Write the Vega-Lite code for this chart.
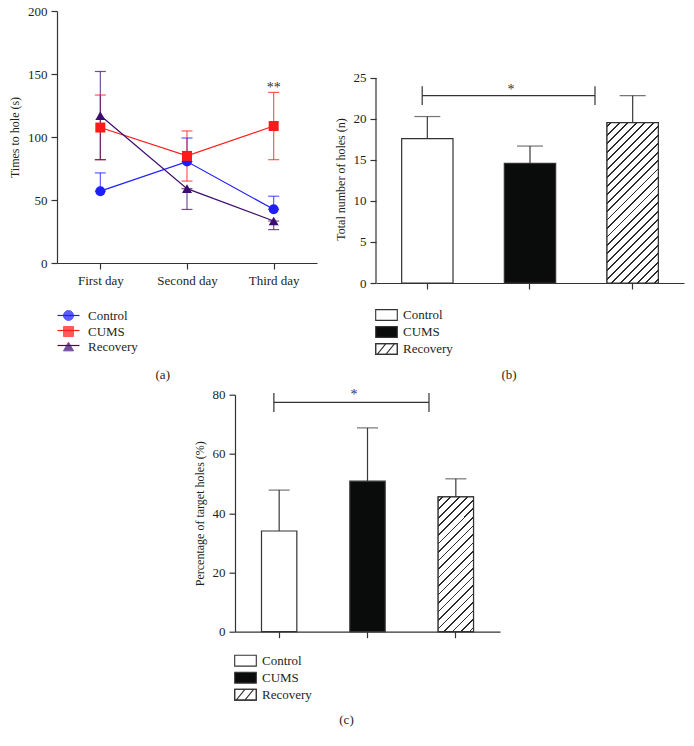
{
  "$schema": "https://vega.github.io/schema/vega-lite/v6.json",
  "background": "white",
  "padding": {"left": 8, "top": 5, "right": 5, "bottom": 5},
  "config": {
    "font": "Liberation Serif",
    "view": {"stroke": null},
    "axis": {"labelFont": "Liberation Serif", "titleFont": "Liberation Serif", "labelFontSize": 13, "titleFontSize": 12, "titleFontWeight": "normal", "labelColor": "#231f20", "titleColor": "#231f20", "domainColor": "#333333", "tickColor": "#333333", "tickSize": 6, "grid": false, "domainWidth": 1.2, "tickWidth": 1.2, "labelPadding": 4, "titlePadding": 6},
    "legend": {"labelFont": "Liberation Serif", "labelFontSize": 13, "labelColor": "#231f20"},
    "title": {"font": "Liberation Serif", "fontSize": 13, "fontWeight": "normal", "color": "#231f20"}
  },
  "columns": 2,
  "bounds": "flush",
  "spacing": {"row": 111.7, "column": 59},
  "resolve": {"scale": {"color": "independent", "fill": "independent", "shape": "independent", "stroke": "independent", "size": "independent"}},
  "concat": [
    {
      "width": 260,
      "height": 252,
      "title": {"text": "(a)", "orient": "bottom", "anchor": "middle", "frame": "bounds", "offset": 15},
      "data": {"values": [
        {"day": "First day", "group": "Control", "mean": 57, "lo": 57, "hi": 71.5},
        {"day": "First day", "group": "CUMS", "mean": 107.5, "lo": 82, "hi": 133.3},
        {"day": "First day", "group": "Recovery", "mean": 117, "lo": 82, "hi": 152},
        {"day": "Second day", "group": "Control", "mean": 80.5, "lo": 80.5, "hi": 99.2},
        {"day": "Second day", "group": "CUMS", "mean": 85, "lo": 65, "hi": 104.8},
        {"day": "Second day", "group": "Recovery", "mean": 59, "lo": 42.5, "hi": 59},
        {"day": "Third day", "group": "Control", "mean": 42.6, "lo": 42.6, "hi": 53},
        {"day": "Third day", "group": "CUMS", "mean": 108.7, "lo": 82, "hi": 135.4},
        {"day": "Third day", "group": "Recovery", "mean": 33.3, "lo": 26.5, "hi": 33.3}
      ]},
      "layer": [
        {
          "mark": {"type": "line", "strokeWidth": 1.2},
          "encoding": {
            "x": {"field": "day", "type": "ordinal", "sort": ["First day", "Second day", "Third day"], "scale": {"type": "point", "padding": 0.5}, "axis": {"title": null, "labelAngle": 0, "labelPadding": 5}},
            "y": {"field": "mean", "type": "quantitative", "title": "Times to hole (s)", "scale": {"domain": [0, 200], "nice": false}, "axis": {"values": [0, 50, 100, 150, 200]}},
            "color": {"field": "group", "type": "nominal", "scale": {"domain": ["Control", "CUMS", "Recovery"], "range": ["#1e1eff", "#ff1a1a", "#3d0c6e"]}, "legend": {
              "title": null, "orient": "none", "legendX": 5, "legendY": 298, "symbolSize": 100, "symbolStrokeWidth": 1, "symbolOpacity": 1, "labelOffset": 13, "rowPadding": 1, "labelFont": "Liberation Serif", "labelFontSize": 13
            }}
          }
        },
        {
          "mark": {"type": "rule", "strokeWidth": 1.2, "opacity": 0.72},
          "encoding": {
            "x": {"field": "day", "type": "ordinal", "sort": ["First day", "Second day", "Third day"]},
            "y": {"field": "lo", "type": "quantitative", "title": "Times to hole (s)"},
            "y2": {"field": "hi"},
            "color": {"field": "group", "type": "nominal"}
          }
        },
        {
          "mark": {"type": "tick", "thickness": 1.2, "size": 11, "opacity": 0.72},
          "encoding": {
            "x": {"field": "day", "type": "ordinal", "sort": ["First day", "Second day", "Third day"]},
            "y": {"field": "hi", "type": "quantitative", "title": "Times to hole (s)"},
            "color": {"field": "group", "type": "nominal"}
          }
        },
        {
          "mark": {"type": "tick", "thickness": 1.2, "size": 11, "opacity": 0.72},
          "encoding": {
            "x": {"field": "day", "type": "ordinal", "sort": ["First day", "Second day", "Third day"]},
            "y": {"field": "lo", "type": "quantitative", "title": "Times to hole (s)"},
            "color": {"field": "group", "type": "nominal"}
          }
        },
        {
          "mark": {"type": "point", "filled": true, "opacity": 1, "size": 100},
          "encoding": {
            "x": {"field": "day", "type": "ordinal", "sort": ["First day", "Second day", "Third day"]},
            "y": {"field": "mean", "type": "quantitative", "title": "Times to hole (s)"},
            "color": {"field": "group", "type": "nominal"},
            "shape": {"field": "group", "type": "nominal", "scale": {"domain": ["Control", "CUMS", "Recovery"], "range": ["circle", "square", "triangle-up"]}}
          }
        },
        {
          "mark": {"type": "point", "opacity": 0, "size": 100},
          "encoding": {
            "x": {"field": "day", "type": "ordinal", "sort": ["First day", "Second day", "Third day"]},
            "y": {"field": "mean", "type": "quantitative", "title": "Times to hole (s)"},
            "stroke": {"field": "group", "type": "nominal", "sort": ["Control", "CUMS", "Recovery"], "scale": {"range": ["#1e1eff", "#ff1a1a", "#3d0c6e"]}, "legend": {
              "title": null, "orient": "none", "legendX": 5, "legendY": 298, "symbolSize": 100, "symbolType": "M-2.2,0H2.2", "symbolStrokeWidth": 1.2, "symbolOpacity": 1, "symbolFillColor": "transparent", "labelExpr": "' '", "labelOffset": 13, "rowPadding": 1, "labelFontSize": 13
            }}
          }
        },
        {
          "data": {"values": [{"day": "Third day", "y": 139, "label": "**"}]},
          "mark": {"type": "text", "fontSize": 14, "font": "Liberation Serif", "color": "#333333"},
          "encoding": {
            "x": {"field": "day", "type": "ordinal", "sort": ["First day", "Second day", "Third day"]},
            "y": {"field": "y", "type": "quantitative", "title": "Times to hole (s)"},
            "text": {"field": "label"}
          }
        }
      ]
    },
    {
      "width": 308,
      "height": 272,
      "title": {"text": "(b)", "orient": "bottom", "anchor": "middle", "frame": "bounds", "offset": 12},
      "resolve": {"scale": {"x": "independent"}},
      "layer": [
        {
          "data": {"values": [
            {"group": "Control", "mean": 17.6, "hi": 20.3},
            {"group": "CUMS", "mean": 14.6, "hi": 16.7},
            {"group": "Recovery", "mean": 19.55, "hi": 22.85}
          ]},
          "layer": [
            {
              "mark": {"type": "rule", "strokeWidth": 1.2, "color": "#3a3a3a"},
              "encoding": {
                "x": {"field": "group", "type": "nominal", "sort": ["Control", "CUMS", "Recovery"], "scale": {"paddingInner": 0.5, "paddingOuter": 0.25}, "axis": {"labels": false, "title": null}},
                "y": {"field": "mean", "type": "quantitative", "title": "Total number of holes (n)", "scale": {"domain": [0, 33.17], "nice": false}, "axis": {"values": [0, 5, 10, 15, 20, 25], "domain": false, "titleY": 168}},
                "y2": {"field": "hi"}
              }
            },
            {
              "mark": {"type": "tick", "thickness": 1.2, "size": 26, "color": "#3a3a3a"},
              "encoding": {
                "x": {"field": "group", "type": "nominal", "sort": ["Control", "CUMS", "Recovery"]},
                "y": {"field": "hi", "type": "quantitative", "title": "Total number of holes (n)"}
              }
            },
            {
              "mark": {"type": "bar", "stroke": "#333333", "strokeWidth": 1.2},
              "encoding": {
                "x": {"field": "group", "type": "nominal", "sort": ["Control", "CUMS", "Recovery"]},
                "y": {"field": "mean", "type": "quantitative", "title": "Total number of holes (n)"},
                "fill": {"field": "group", "type": "nominal", "scale": {"domain": ["Control", "CUMS", "Recovery"], "range": ["#ffffff", "#0a0c0b", "#ffffff"]}, "legend": {
                  "title": null, "orient": "none", "legendX": 3.5, "legendY": 297, "symbolSize": 144, "symbolType": "M-1.8,-0.9H1.8V0.9H-1.8Z", "symbolStrokeWidth": 1.1, "symbolStrokeColor": "#333333", "labelOffset": 9.5, "rowPadding": 1, "labelFont": "Liberation Serif", "labelFontSize": 13
                }}
              }
            },
            {
              "transform": [{"filter": "datum.group === 'Recovery'"}],
              "mark": {"type": "bar", "stroke": "#333333", "strokeWidth": 1.2, "fill": {
                "gradient": "linear", "x1": 0, "y1": 0, "x2": 0.3834, "y2": 1.1973,
                "stops": [
                  {"offset": 0, "color": "#ffffff"},
                  {"offset": 0.0155, "color": "#ffffff"}, {"offset": 0.0155, "color": "#2b2b2b"}, {"offset": 0.0245, "color": "#2b2b2b"}, {"offset": 0.0245, "color": "#ffffff"},
                  {"offset": 0.0555, "color": "#ffffff"}, {"offset": 0.0555, "color": "#2b2b2b"}, {"offset": 0.0645, "color": "#2b2b2b"}, {"offset": 0.0645, "color": "#ffffff"},
                  {"offset": 0.0955, "color": "#ffffff"}, {"offset": 0.0955, "color": "#2b2b2b"}, {"offset": 0.1045, "color": "#2b2b2b"}, {"offset": 0.1045, "color": "#ffffff"},
                  {"offset": 0.1355, "color": "#ffffff"}, {"offset": 0.1355, "color": "#2b2b2b"}, {"offset": 0.1445, "color": "#2b2b2b"}, {"offset": 0.1445, "color": "#ffffff"},
                  {"offset": 0.1755, "color": "#ffffff"}, {"offset": 0.1755, "color": "#2b2b2b"}, {"offset": 0.1845, "color": "#2b2b2b"}, {"offset": 0.1845, "color": "#ffffff"},
                  {"offset": 0.2155, "color": "#ffffff"}, {"offset": 0.2155, "color": "#2b2b2b"}, {"offset": 0.2245, "color": "#2b2b2b"}, {"offset": 0.2245, "color": "#ffffff"},
                  {"offset": 0.2555, "color": "#ffffff"}, {"offset": 0.2555, "color": "#2b2b2b"}, {"offset": 0.2645, "color": "#2b2b2b"}, {"offset": 0.2645, "color": "#ffffff"},
                  {"offset": 0.2955, "color": "#ffffff"}, {"offset": 0.2955, "color": "#2b2b2b"}, {"offset": 0.3045, "color": "#2b2b2b"}, {"offset": 0.3045, "color": "#ffffff"},
                  {"offset": 0.3355, "color": "#ffffff"}, {"offset": 0.3355, "color": "#2b2b2b"}, {"offset": 0.3445, "color": "#2b2b2b"}, {"offset": 0.3445, "color": "#ffffff"},
                  {"offset": 0.3755, "color": "#ffffff"}, {"offset": 0.3755, "color": "#2b2b2b"}, {"offset": 0.3845, "color": "#2b2b2b"}, {"offset": 0.3845, "color": "#ffffff"},
                  {"offset": 0.4155, "color": "#ffffff"}, {"offset": 0.4155, "color": "#2b2b2b"}, {"offset": 0.4245, "color": "#2b2b2b"}, {"offset": 0.4245, "color": "#ffffff"},
                  {"offset": 0.4555, "color": "#ffffff"}, {"offset": 0.4555, "color": "#2b2b2b"}, {"offset": 0.4645, "color": "#2b2b2b"}, {"offset": 0.4645, "color": "#ffffff"},
                  {"offset": 0.4955, "color": "#ffffff"}, {"offset": 0.4955, "color": "#2b2b2b"}, {"offset": 0.5045, "color": "#2b2b2b"}, {"offset": 0.5045, "color": "#ffffff"},
                  {"offset": 0.5355, "color": "#ffffff"}, {"offset": 0.5355, "color": "#2b2b2b"}, {"offset": 0.5445, "color": "#2b2b2b"}, {"offset": 0.5445, "color": "#ffffff"},
                  {"offset": 0.5755, "color": "#ffffff"}, {"offset": 0.5755, "color": "#2b2b2b"}, {"offset": 0.5845, "color": "#2b2b2b"}, {"offset": 0.5845, "color": "#ffffff"},
                  {"offset": 0.6155, "color": "#ffffff"}, {"offset": 0.6155, "color": "#2b2b2b"}, {"offset": 0.6245, "color": "#2b2b2b"}, {"offset": 0.6245, "color": "#ffffff"},
                  {"offset": 0.6555, "color": "#ffffff"}, {"offset": 0.6555, "color": "#2b2b2b"}, {"offset": 0.6645, "color": "#2b2b2b"}, {"offset": 0.6645, "color": "#ffffff"},
                  {"offset": 0.6955, "color": "#ffffff"}, {"offset": 0.6955, "color": "#2b2b2b"}, {"offset": 0.7045, "color": "#2b2b2b"}, {"offset": 0.7045, "color": "#ffffff"},
                  {"offset": 0.7355, "color": "#ffffff"}, {"offset": 0.7355, "color": "#2b2b2b"}, {"offset": 0.7445, "color": "#2b2b2b"}, {"offset": 0.7445, "color": "#ffffff"},
                  {"offset": 0.7755, "color": "#ffffff"}, {"offset": 0.7755, "color": "#2b2b2b"}, {"offset": 0.7845, "color": "#2b2b2b"}, {"offset": 0.7845, "color": "#ffffff"},
                  {"offset": 0.8155, "color": "#ffffff"}, {"offset": 0.8155, "color": "#2b2b2b"}, {"offset": 0.8245, "color": "#2b2b2b"}, {"offset": 0.8245, "color": "#ffffff"},
                  {"offset": 0.8555, "color": "#ffffff"}, {"offset": 0.8555, "color": "#2b2b2b"}, {"offset": 0.8645, "color": "#2b2b2b"}, {"offset": 0.8645, "color": "#ffffff"},
                  {"offset": 0.8955, "color": "#ffffff"}, {"offset": 0.8955, "color": "#2b2b2b"}, {"offset": 0.9045, "color": "#2b2b2b"}, {"offset": 0.9045, "color": "#ffffff"},
                  {"offset": 0.9355, "color": "#ffffff"}, {"offset": 0.9355, "color": "#2b2b2b"}, {"offset": 0.9445, "color": "#2b2b2b"}, {"offset": 0.9445, "color": "#ffffff"},
                  {"offset": 0.9755, "color": "#ffffff"}, {"offset": 0.9755, "color": "#2b2b2b"}, {"offset": 0.9845, "color": "#2b2b2b"}, {"offset": 0.9845, "color": "#ffffff"},
                  {"offset": 1, "color": "#ffffff"}
                ]
              }},
              "encoding": {
                "x": {"field": "group", "type": "nominal", "sort": ["Control", "CUMS", "Recovery"]},
                "y": {"field": "mean", "type": "quantitative", "title": "Total number of holes (n)"}
              }
            },
            {
              "transform": [{"filter": "datum.group === 'Recovery'"}],
              "mark": {"type": "point", "opacity": 0},
              "encoding": {
                "x": {"field": "group", "type": "nominal", "sort": ["Control", "CUMS", "Recovery"]},
                "y": {"field": "mean", "type": "quantitative", "title": "Total number of holes (n)"},
                "stroke": {"field": "group", "type": "nominal", "scale": {"range": ["#333333"]}, "legend": {
                  "title": null, "orient": "none", "legendX": 3.5, "legendY": 331, "symbolSize": 144, "symbolType": "M-1.8,-0.9H1.8V0.9H-1.8ZM-1.55,0.9L-0.1,-0.9M-0.1,0.9L1.35,-0.9", "symbolStrokeWidth": 1.1, "symbolOpacity": 1, "symbolFillColor": "transparent", "labelExpr": "' '", "labelOffset": 9.5, "labelFontSize": 13
                }}
              }
            }
          ]
        },
        {
          "data": {"values": [
            {"kind": "line", "x1": 0, "x2": 0, "y1": 0, "y2": 25},
            {"kind": "line", "x1": 0.45, "x2": 2.133, "y1": 22.85, "y2": 22.85},
            {"kind": "line", "x1": 0.45, "x2": 0.45, "y1": 21.7, "y2": 24.0},
            {"kind": "line", "x1": 2.133, "x2": 2.133, "y1": 21.7, "y2": 24.0},
            {"kind": "star", "x1": 1.315, "x2": 1.315, "y1": 23.5, "y2": 23.5, "label": "*"}
          ]},
          "layer": [
            {
              "transform": [{"filter": "datum.kind === 'line'"}],
              "mark": {"type": "rule", "strokeWidth": 1.2, "color": "#333333"},
              "encoding": {
                "x": {"field": "x1", "type": "quantitative", "scale": {"domain": [0, 3], "nice": false, "zero": false}, "axis": null},
                "x2": {"field": "x2"},
                "y": {"field": "y1", "type": "quantitative", "title": "Total number of holes (n)"},
                "y2": {"field": "y2"}
              }
            },
            {
              "transform": [{"filter": "datum.kind === 'star'"}],
              "mark": {"type": "text", "fontSize": 14, "font": "Liberation Serif", "color": "#333333"},
              "encoding": {
                "x": {"field": "x1", "type": "quantitative"},
                "y": {"field": "y1", "type": "quantitative", "title": "Total number of holes (n)"},
                "text": {"field": "label"}
              }
            }
          ]
        }
      ]
    },
    {
      "bounds": "flush",
      "spacing": 59,
      "resolve": {"scale": {"fill": "independent", "stroke": "independent"}, "legend": {"fill": "independent", "stroke": "independent"}},
      "hconcat": [
        {"width": 119, "height": 10, "data": {"values": []}, "mark": "point", "encoding": {}},
        {
          "width": 265,
          "height": 237,
          "title": {"text": "(c)", "orient": "bottom", "anchor": "middle", "frame": "bounds", "offset": 11},
          "resolve": {"scale": {"x": "independent"}},
          "layer": [
            {
              "data": {"values": [
                {"group": "Control", "mean": 34.0, "hi": 47.8},
                {"group": "CUMS", "mean": 50.8, "hi": 68.8},
                {"group": "Recovery", "mean": 45.5, "hi": 51.6}
              ]},
              "layer": [
                {
                  "mark": {"type": "rule", "strokeWidth": 1.2, "color": "#3a3a3a"},
                  "encoding": {
                    "x": {"field": "group", "type": "nominal", "sort": ["Control", "CUMS", "Recovery"], "scale": {"paddingInner": 0.6, "paddingOuter": 0.3}, "axis": {"labels": false, "title": null}},
                    "y": {"field": "mean", "type": "quantitative", "title": "Percentage of target holes (%)", "scale": {"domain": [0, 80], "nice": false}, "axis": {"values": [0, 20, 40, 60, 80]}},
                    "y2": {"field": "hi"}
                  }
                },
                {
                  "mark": {"type": "tick", "thickness": 1.2, "size": 21, "color": "#3a3a3a"},
                  "encoding": {
                    "x": {"field": "group", "type": "nominal", "sort": ["Control", "CUMS", "Recovery"]},
                    "y": {"field": "hi", "type": "quantitative", "title": "Percentage of target holes (%)"}
                  }
                },
                {
                  "mark": {"type": "bar", "stroke": "#333333", "strokeWidth": 1.2},
                  "encoding": {
                    "x": {"field": "group", "type": "nominal", "sort": ["Control", "CUMS", "Recovery"]},
                    "y": {"field": "mean", "type": "quantitative", "title": "Percentage of target holes (%)"},
                    "fill": {"field": "group", "type": "nominal", "scale": {"domain": ["Control", "CUMS", "Recovery"], "range": ["#ffffff", "#0a0c0b", "#ffffff"]}, "legend": {
                      "title": null, "orient": "none", "legendX": 3.5, "legendY": 259, "symbolSize": 144, "symbolType": "M-1.8,-0.9H1.8V0.9H-1.8Z", "symbolStrokeWidth": 1.1, "symbolStrokeColor": "#333333", "labelOffset": 9.5, "rowPadding": 1, "labelFont": "Liberation Serif", "labelFontSize": 13
                    }}
                  }
                },
                {
                  "transform": [{"filter": "datum.group === 'Recovery'"}],
                  "mark": {"type": "bar", "stroke": "#333333", "strokeWidth": 1.2, "fill": {
                    "gradient": "linear", "x1": 0, "y1": 0, "x2": 0.3097, "y2": 1.181,
                    "stops": [
                      {"offset": 0, "color": "#ffffff"},
                      {"offset": 0.02, "color": "#ffffff"}, {"offset": 0.02, "color": "#2b2b2b"}, {"offset": 0.03, "color": "#2b2b2b"}, {"offset": 0.03, "color": "#ffffff"},
                      {"offset": 0.07, "color": "#ffffff"}, {"offset": 0.07, "color": "#2b2b2b"}, {"offset": 0.08, "color": "#2b2b2b"}, {"offset": 0.08, "color": "#ffffff"},
                      {"offset": 0.12, "color": "#ffffff"}, {"offset": 0.12, "color": "#2b2b2b"}, {"offset": 0.13, "color": "#2b2b2b"}, {"offset": 0.13, "color": "#ffffff"},
                      {"offset": 0.17, "color": "#ffffff"}, {"offset": 0.17, "color": "#2b2b2b"}, {"offset": 0.18, "color": "#2b2b2b"}, {"offset": 0.18, "color": "#ffffff"},
                      {"offset": 0.22, "color": "#ffffff"}, {"offset": 0.22, "color": "#2b2b2b"}, {"offset": 0.23, "color": "#2b2b2b"}, {"offset": 0.23, "color": "#ffffff"},
                      {"offset": 0.27, "color": "#ffffff"}, {"offset": 0.27, "color": "#2b2b2b"}, {"offset": 0.28, "color": "#2b2b2b"}, {"offset": 0.28, "color": "#ffffff"},
                      {"offset": 0.32, "color": "#ffffff"}, {"offset": 0.32, "color": "#2b2b2b"}, {"offset": 0.33, "color": "#2b2b2b"}, {"offset": 0.33, "color": "#ffffff"},
                      {"offset": 0.37, "color": "#ffffff"}, {"offset": 0.37, "color": "#2b2b2b"}, {"offset": 0.38, "color": "#2b2b2b"}, {"offset": 0.38, "color": "#ffffff"},
                      {"offset": 0.42, "color": "#ffffff"}, {"offset": 0.42, "color": "#2b2b2b"}, {"offset": 0.43, "color": "#2b2b2b"}, {"offset": 0.43, "color": "#ffffff"},
                      {"offset": 0.47, "color": "#ffffff"}, {"offset": 0.47, "color": "#2b2b2b"}, {"offset": 0.48, "color": "#2b2b2b"}, {"offset": 0.48, "color": "#ffffff"},
                      {"offset": 0.52, "color": "#ffffff"}, {"offset": 0.52, "color": "#2b2b2b"}, {"offset": 0.53, "color": "#2b2b2b"}, {"offset": 0.53, "color": "#ffffff"},
                      {"offset": 0.57, "color": "#ffffff"}, {"offset": 0.57, "color": "#2b2b2b"}, {"offset": 0.58, "color": "#2b2b2b"}, {"offset": 0.58, "color": "#ffffff"},
                      {"offset": 0.62, "color": "#ffffff"}, {"offset": 0.62, "color": "#2b2b2b"}, {"offset": 0.63, "color": "#2b2b2b"}, {"offset": 0.63, "color": "#ffffff"},
                      {"offset": 0.67, "color": "#ffffff"}, {"offset": 0.67, "color": "#2b2b2b"}, {"offset": 0.68, "color": "#2b2b2b"}, {"offset": 0.68, "color": "#ffffff"},
                      {"offset": 0.72, "color": "#ffffff"}, {"offset": 0.72, "color": "#2b2b2b"}, {"offset": 0.73, "color": "#2b2b2b"}, {"offset": 0.73, "color": "#ffffff"},
                      {"offset": 0.77, "color": "#ffffff"}, {"offset": 0.77, "color": "#2b2b2b"}, {"offset": 0.78, "color": "#2b2b2b"}, {"offset": 0.78, "color": "#ffffff"},
                      {"offset": 0.82, "color": "#ffffff"}, {"offset": 0.82, "color": "#2b2b2b"}, {"offset": 0.83, "color": "#2b2b2b"}, {"offset": 0.83, "color": "#ffffff"},
                      {"offset": 0.87, "color": "#ffffff"}, {"offset": 0.87, "color": "#2b2b2b"}, {"offset": 0.88, "color": "#2b2b2b"}, {"offset": 0.88, "color": "#ffffff"},
                      {"offset": 0.92, "color": "#ffffff"}, {"offset": 0.92, "color": "#2b2b2b"}, {"offset": 0.93, "color": "#2b2b2b"}, {"offset": 0.93, "color": "#ffffff"},
                      {"offset": 0.97, "color": "#ffffff"}, {"offset": 0.97, "color": "#2b2b2b"}, {"offset": 0.98, "color": "#2b2b2b"}, {"offset": 0.98, "color": "#ffffff"},
                      {"offset": 1, "color": "#ffffff"}
                    ]
                  }},
                  "encoding": {
                    "x": {"field": "group", "type": "nominal", "sort": ["Control", "CUMS", "Recovery"]},
                    "y": {"field": "mean", "type": "quantitative", "title": "Percentage of target holes (%)"}
                  }
                },
                {
                  "transform": [{"filter": "datum.group === 'Recovery'"}],
                  "mark": {"type": "point", "opacity": 0},
                  "encoding": {
                    "x": {"field": "group", "type": "nominal", "sort": ["Control", "CUMS", "Recovery"]},
                    "y": {"field": "mean", "type": "quantitative", "title": "Percentage of target holes (%)"},
                    "stroke": {"field": "group", "type": "nominal", "scale": {"range": ["#333333"]}, "legend": {
                      "title": null, "orient": "none", "legendX": 3.5, "legendY": 293, "symbolSize": 144, "symbolType": "M-1.8,-0.9H1.8V0.9H-1.8ZM-1.55,0.9L-0.1,-0.9M-0.1,0.9L1.35,-0.9", "symbolStrokeWidth": 1.1, "symbolOpacity": 1, "symbolFillColor": "transparent", "labelExpr": "' '", "labelOffset": 9.5, "labelFontSize": 13
                    }}
                  }
                }
              ]
            },
            {
              "data": {"values": [
                {"kind": "line", "x1": 0.44, "x2": 2.196, "y1": 77.4, "y2": 77.4},
                {"kind": "line", "x1": 0.44, "x2": 0.44, "y1": 74.2, "y2": 80.6},
                {"kind": "line", "x1": 2.196, "x2": 2.196, "y1": 74.2, "y2": 80.6},
                {"kind": "star", "x1": 1.347, "x2": 1.347, "y1": 79.8, "y2": 79.8, "label": "*"}
              ]},
              "layer": [
                {
                  "transform": [{"filter": "datum.kind === 'line'"}],
                  "mark": {"type": "rule", "strokeWidth": 1.2, "color": "#333333"},
                  "encoding": {
                    "x": {"field": "x1", "type": "quantitative", "scale": {"domain": [0, 3], "nice": false, "zero": false}, "axis": null},
                    "x2": {"field": "x2"},
                    "y": {"field": "y1", "type": "quantitative", "title": "Percentage of target holes (%)"},
                    "y2": {"field": "y2"}
                  }
                },
                {
                  "transform": [{"filter": "datum.kind === 'star'"}],
                  "mark": {"type": "text", "fontSize": 14, "font": "Liberation Serif", "color": "#333333"},
                  "encoding": {
                    "x": {"field": "x1", "type": "quantitative"},
                    "y": {"field": "y1", "type": "quantitative", "title": "Percentage of target holes (%)"},
                    "text": {"field": "label"}
                  }
                }
              ]
            }
          ]
        }
      ]
    }
  ]
}
